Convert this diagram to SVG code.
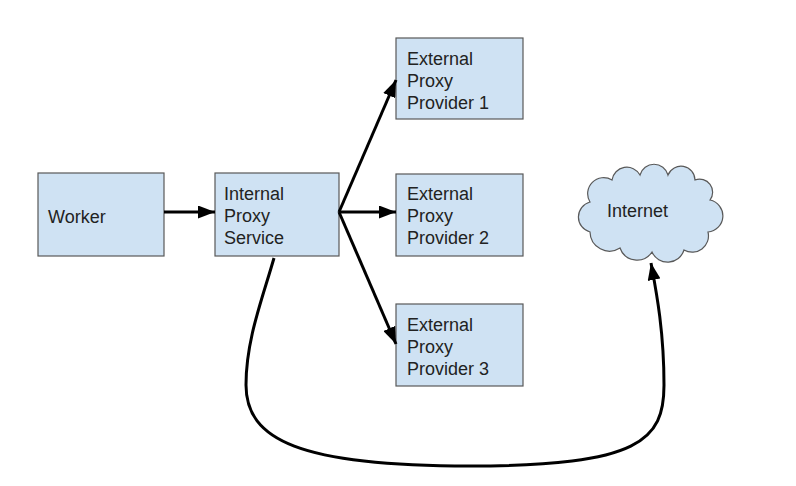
<svg xmlns="http://www.w3.org/2000/svg" width="796" height="486" viewBox="0 0 796 486">
<style>
.box{fill:#cfe2f3;stroke:#595959;stroke-width:1.2}
.t{font-family:"Liberation Sans",Arial,sans-serif;font-size:18px;fill:#222}
.c{fill:none;stroke:#000;stroke-width:3}
</style>
<defs>
<marker id="ah" markerUnits="userSpaceOnUse" markerWidth="18" markerHeight="13" refX="17" refY="6.5" orient="auto">
<path d="M0,0 L17,6.5 L0,13 z" fill="#000"/>
</marker>
</defs>
<rect width="796" height="486" fill="#fff"/>
<g id="worker">
<rect class="box" x="38" y="173" width="126" height="83"/>
<text class="t" x="48" y="223">Worker</text>
</g>
<g id="internal-proxy">
<rect class="box" x="215" y="173" width="124" height="83"/>
<text class="t" x="224"><tspan x="224" y="200">Internal</tspan><tspan x="224" y="222">Proxy</tspan><tspan x="224" y="244">Service</tspan></text>
</g>
<g id="provider1">
<rect class="box" x="396" y="38" width="127" height="81"/>
<text class="t"><tspan x="407" y="65">External</tspan><tspan x="407" y="87">Proxy</tspan><tspan x="407" y="109">Provider 1</tspan></text>
</g>
<g id="provider2">
<rect class="box" x="396" y="174" width="127" height="82"/>
<text class="t"><tspan x="407" y="200">External</tspan><tspan x="407" y="222">Proxy</tspan><tspan x="407" y="244">Provider 2</tspan></text>
</g>
<g id="provider3">
<rect class="box" x="396" y="304" width="127" height="82"/>
<text class="t"><tspan x="407" y="331">External</tspan><tspan x="407" y="353">Proxy</tspan><tspan x="407" y="375">Provider 3</tspan></text>
</g>
<g id="internet">
<path class="box" d="M590,232 A15.5,15.5 0 0 1 590,202 A16,16 0 0 1 612,180 A15,15 0 0 1 640,175 A14.5,14.5 0 0 1 668,175 A14,14 0 0 1 695,180 A13,13 0 0 1 710,200 A16.2,16.2 0 0 1 708,232 A16.3,16.3 0 0 1 684,250 A17.1,17.1 0 0 1 652,252 A18,18 0 0 1 620,248 A19.5,19.5 0 0 1 590,232 Z"/>
<text class="t" x="607" y="217">Internet</text>
</g>
<g id="connectors">
<path class="c" d="M164,212 L215,212" marker-end="url(#ah)"/>
<path class="c" d="M339,212 L396,80" marker-end="url(#ah)"/>
<path class="c" d="M339,212 L396,212" marker-end="url(#ah)"/>
<path class="c" d="M339,212 L396,344" marker-end="url(#ah)"/>
<path class="c" d="M274,258 C262,300 246,340 246,385 C246,440 300,466 470,466 C640,466 664,440 664,385 C664,330 656,290 651,263" marker-end="url(#ah)"/>
</g>
</svg>
